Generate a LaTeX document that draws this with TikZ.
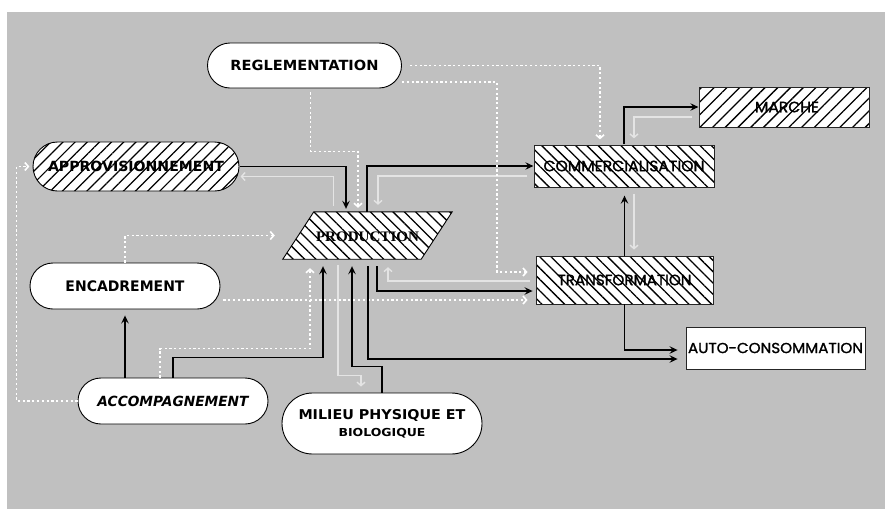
\documentclass[tikz,border=0pt]{standalone}
\usepackage{fontspec}
\usepackage{graphicx}
\usetikzlibrary{patterns.meta,arrows.meta,shapes.misc,calc}
\newfontfamily\comicf{DejaVu Sans}
\newfontfamily\gothf{Poppins}[FakeBold=1.3]
\newfontfamily\serff{Liberation Serif}
\newcommand\fitw[2]{\resizebox{#1pt}{\height}{#2}}
\definecolor{bgc}{RGB}{192,192,192}
\definecolor{lightc}{RGB}{228,228,228}
\begin{document}
\begin{tikzpicture}[x=1pt,y=-1pt,
  stad/.style={rounded rectangle,draw=black,line width=0.9pt,fill=white,inner sep=0pt},
  hstad/.style={rounded rectangle,draw=black,line width=0.9pt,preaction={fill=white},
    pattern={Lines[angle=45,distance=8.6pt,line width=1.2pt]},inner sep=0pt},
  hrectA/.style={rectangle,draw=black!85,line width=0.9pt,preaction={fill=white},
    pattern={Lines[angle=-45,distance=8pt,line width=1.3pt]},inner sep=0pt},
  hrectB/.style={rectangle,draw=black!85,line width=0.9pt,preaction={fill=white},
    pattern={Lines[angle=45,distance=9pt,line width=1.3pt]},inner sep=0pt},
  wrect/.style={rectangle,draw=black!85,line width=0.9pt,fill=white,inner sep=0pt},
  blk/.style={draw=black,line width=1.6pt,-{Stealth[length=8pt,width=7.5pt,inset=3pt]}},
  lgt/.style={draw=lightc,line width=1.4pt,-{Straight Barb[length=3.5pt,width=8pt]},shorten <=6pt,shorten >=6pt},
  dot/.style={draw=white,line width=1.6pt,dash pattern=on 2.2pt off 2.6pt,-{Straight Barb[length=3.5pt,width=8pt]}}
]
\useasboundingbox (0,0) rectangle (885,509);
\fill[white] (0,0) rectangle (885,509);
\fill[bgc] (7,12) rectangle (885,509);

% nodes
\node[stad,minimum width=194pt,minimum height=45pt] (regl) at (304.5,65.5)
  {\fitw{148}{\fontsize{14}{16}\comicf\bfseries REGLEMENTATION}};
\node[hstad,minimum width=206pt,minimum height=49pt] (appro) at (136,166.5)
  {\fitw{176}{\fontsize{14}{16}\comicf\bfseries APPROVISIONNEMENT}};
\node[stad,minimum width=190pt,minimum height=46pt] (encad) at (125,286)
  {\fitw{119}{\fontsize{14.5}{16}\comicf\bfseries ENCADREMENT}};
\node[stad,minimum width=190pt,minimum height=46pt] (accomp) at (173,401)
  {\fitw{151}{\fontsize{14}{16}\comicf\bfseries\itshape ACCOMPAGNEMENT}};
\node[stad,minimum width=200pt,minimum height=61pt,align=center] (milieu) at (382,423.5)
  {\fitw{167}{\fontsize{13.5}{15}\comicf\bfseries MILIEU PHYSIQUE ET}\\[5pt]
   \fitw{87}{\fontsize{11}{13}\comicf\bfseries BIOLOGIQUE}};
\node[hrectA,minimum width=180pt,minimum height=42pt] (comm) at (624,166)
  {\fitw{161}{\fontsize{15}{17}\gothf COMMERCIALISATION}};
\node[hrectB,minimum width=170pt,minimum height=40pt] (marche) at (784,107)
  {\hspace*{6pt}\fitw{64}{\fontsize{15}{17}\gothf MARCHE}};
\node[hrectA,minimum width=177pt,minimum height=48pt] (transf) at (624.5,280)
  {\fitw{134}{\fontsize{15}{17}\gothf TRANSFORMATION}};
\node[wrect,minimum width=179pt,minimum height=42pt] (auto) at (775.5,348)
  {\fitw{175}{\fontsize{14.5}{17}\gothf AUTO-CONSOMMATION}};

% production parallelogram
\node[minimum width=169pt,minimum height=47pt,inner sep=0pt] (prod) at (367.5,235.5) {};
\path[draw=black,line width=0.9pt,preaction={fill=white},
  pattern={Lines[angle=-45,distance=8pt,line width=1.3pt]}]
  (prod.south west) -- ([xshift=31pt]prod.north west) -- (prod.north east)
  -- ([xshift=-31pt]prod.south east) -- cycle;
\node (prodlabel) at ([yshift=-1.5pt]prod.center)
  {\fitw{103}{\fontsize{14.5}{16}\serff\bfseries PRODUCTION}};

% connectors
\draw[blk,shorten >=3pt] (appro.east) -| ([xshift=-21.5pt]prod.north);
\draw[lgt,shorten >=1pt] ([xshift=-34pt]prod.north) |- ([yshift=-10pt]appro.east);
\draw[dot,shorten <=4pt,shorten >=4pt] ([xshift=6pt]regl.south) -- ++(0,63) -| ([xshift=-9.5pt]prod.north);
\draw[blk] ([xshift=-0.5pt]prod.north) |- (comm.west);
\draw[lgt,shorten >=7pt] ([yshift=-10pt]comm.west) -| ([xshift=10.5pt]prod.north);
\draw[dot,shorten <=8pt,shorten >=5pt] (regl.east) -| ([xshift=-24pt]comm.north);
\draw[dot,shorten >=8pt] ([yshift=-16.5pt]regl.east) -- ++(95,0) |- ([yshift=8pt]transf.west);
\draw[lgt,shorten >=8pt] ([yshift=-1pt]transf.west) -| ([xshift=20.5pt]prod.south);
\draw[blk,shorten <=7pt,shorten >=3pt] ([xshift=9.5pt]prod.south) |- ([yshift=-11pt]transf.west);
\draw[dot,shorten <=3pt,shorten >=8pt] ([yshift=-14pt]encad.east) -- ([yshift=-20pt]transf.west);
\draw[dot] (encad.north) |- ([xshift=-8pt]prod.west);
\draw[dot,shorten >=3pt] (accomp.west) -- ++(-61,0) |- (appro.west);
\draw[blk,shorten >=6pt] ([xshift=-48pt]accomp.north) -- (encad.south);
\draw[dot,shorten >=9pt] ([xshift=-13pt]accomp.north) -- ++(0,-29) -| ([xshift=-57.5pt]prod.south);
\draw[blk,shorten >=7pt] (accomp.north) -- ++(0,-20) -| ([xshift=-44.5pt]prod.south);
\draw[lgt] ([xshift=-29.5pt]prod.south) -- ++(0,116) -| ([xshift=-21pt]milieu.north);
\draw[blk,shorten >=7pt] (milieu.north) -- ++(0,-26) -| ([xshift=-15.5pt]prod.south);
\draw[blk,shorten <=7pt,shorten >=8pt] ([xshift=0.5pt]prod.south) |- ([yshift=-11pt]auto.west);
\draw[blk,shorten >=8pt] (transf.south) |- ([yshift=-2pt]auto.west);
\draw[blk,shorten >=8pt] (transf.north) -- (transf.north |- comm.south);
\draw[lgt] ([xshift=10pt]comm.south) -- ([xshift=10pt]comm.south |- transf.north);
\draw[blk] (comm.north) |- (marche.west);
\draw[lgt] ([yshift=-10pt]marche.west) -| ([xshift=10pt]comm.north);
\end{tikzpicture}
\end{document}
